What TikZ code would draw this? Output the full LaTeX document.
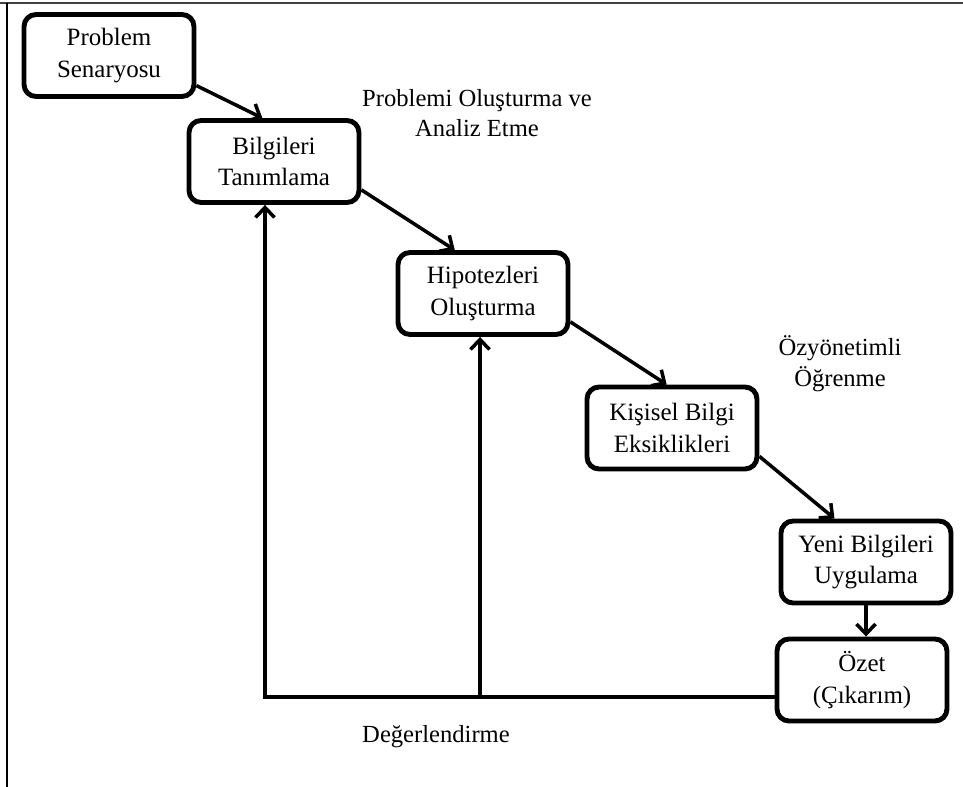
\documentclass[tikz,border=0pt]{standalone}
\usepackage{fontspec}
\setmainfont{Liberation Serif}
\usetikzlibrary{arrows.meta,positioning,calc}

\begin{document}
\begin{tikzpicture}[x=0.02cm, y=0.02cm,
    stage/.style={rectangle, rounded corners=0.24cm, draw, line width=2.8pt, minimum width=3.4cm, minimum height=1.64cm, align=center, font=\fontsize{14.2}{18}\selectfont},
    note/.style={align=center, font=\fontsize{14}{17.5}\selectfont},
    flow/.style={draw, line width=2pt, line join=miter, -{Straight Barb[length=0.2cm, width=0.38cm]}}
]
    \useasboundingbox (0,0) rectangle (963,-787);

    % Frame
    \draw[line width=1.5pt, black!75] (0,-3) -- (963,-3);
    \draw[line width=1.2pt] (7,-3) -- (7,-787);

    % Stages
    \node[stage] (prob) at (109,-55.5) {Problem\\Senaryosu};
    \node[stage] (bilgi) at (274,-161.5) {Bilgileri\\Tanımlama};
    \node[stage] (hipo) at (483,-293.5) {Hipotezleri\\Oluşturma};
    \node[stage] (eksik) at (672,-428) {Kişisel Bilgi\\Eksiklikleri};
    \node[stage] (yeni) at (866,-562) {Yeni Bilgileri\\Uygulama};
    \node[stage] (ozet) at (862,-680) {Özet\\(Çıkarım)};

    % Labels
    \node[note] (analiz) at (477,-113) {Problemi Oluşturma ve\\Analiz Etme};
    \node[note] (ozyon) at (840,-364) {Özyönetimli\\Öğrenme};
    \node[note] (deger) at (436,-737) {Değerlendirme};

    % Edges
    \draw[flow] (prob.-19) -- (bilgi.105);
    \draw[flow] (bilgi.-18) -- (hipo.123);
    \draw[flow] (hipo.-18) -- (eksik.97);
    \draw[flow] (eksik.-18) -- (yeni.126);
    \draw[flow] (yeni.south) -- (yeni.south |- ozet.north);

    % Feedback
    \coordinate (fbl) at (265,-697);
    \coordinate (fbm) at (480,-697);
    \draw[flow] (ozet.west |- fbl) -| (fbl |- bilgi.south);
    \draw[flow] (fbm) -- (fbm |- hipo.south);

\end{tikzpicture}
\end{document}
